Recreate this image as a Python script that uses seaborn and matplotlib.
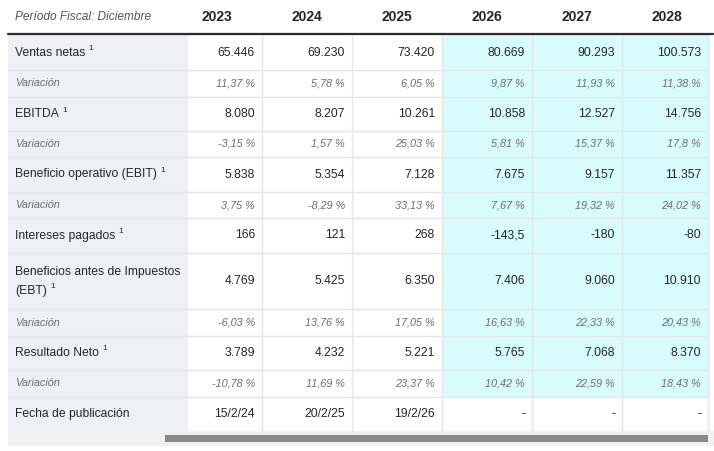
import numpy as np
import matplotlib
matplotlib.use("Agg")
import matplotlib.pyplot as plt
import seaborn as sns

sns.set_theme(style="white")
plt.rcParams['font.family'] = ['Liberation Sans', 'DejaVu Sans']

header_label = "Período Fiscal: Diciembre"
years = ["2023", "2024", "2025", "2026", "2027", "2028"]
n_forecast = 3  # last three years are estimates (cyan)

ventas = [65446, 69230, 73420, 80669, 90293, 100573]
ventas_var = [11.37, 5.78, 6.05, 9.87, 11.93, 11.38]
ebitda = [8080, 8207, 10261, 10858, 12527, 14756]
ebitda_var = [-3.15, 1.57, 25.03, 5.81, 15.37, 17.8]
ebit = [5838, 5354, 7128, 7675, 9157, 11357]
ebit_var = [3.75, -8.29, 33.13, 7.67, 19.32, 24.02]
intereses = [166, 121, 268, -143.5, -180, -80]
ebt = [4769, 5425, 6350, 7406, 9060, 10910]
ebt_var = [-6.03, 13.76, 17.05, 16.63, 22.33, 20.43]
neto = [3789, 4232, 5221, 5765, 7068, 8370]
neto_var = [-10.78, 11.69, 23.37, 10.42, 22.59, 18.43]
fechas = ["15/2/24", "20/2/25", "19/2/26", "-", "-", "-"]


def fmt_num(v):
    if isinstance(v, str):
        return v
    if float(v).is_integer():
        return f"{int(v):,}".replace(",", ".")
    return f"{v:g}".replace(".", ",")


def fmt_pct(v):
    return f"{v:g}".replace(".", ",") + " %"


# (label, values, is_variation, footnote)
rows = [
    ("Ventas netas", ventas, False, True),
    ("Variación", ventas_var, True, False),
    ("EBITDA", ebitda, False, True),
    ("Variación", ebitda_var, True, False),
    ("Beneficio operativo (EBIT)", ebit, False, True),
    ("Variación", ebit_var, True, False),
    ("Intereses pagados", intereses, False, True),
    ("Beneficios antes de Impuestos\n(EBT)", ebt, False, True),
    ("Variación", ebt_var, True, False),
    ("Resultado Neto", neto, False, True),
    ("Variación", neto_var, True, False),
    ("Fecha de publicación", fechas, False, False),
]

# --- layout (pixels) ---
W, H = 714, 451
row_edges = [35, 70, 97, 131, 157, 192, 218, 253, 309, 336, 370, 397, 431]
col_edges = [188, 262, 352, 442, 532, 622, 708]
left = 8
label_bg = "#eef0f3"
cyan_bg = "#d8fcfc"
grid_c = "#e3e5e8"
txt_c = "#262626"
var_c = "#6e6e6e"
fs_main = 8.7
fs_var = 7.8

fig = plt.figure(figsize=(W / 100, H / 100), dpi=100)
ax = fig.add_axes([0, 0, 1, 1])
ax.set_xlim(0, W)
ax.set_ylim(H, 0)
ax.axis("off")

# backgrounds
ax.add_patch(plt.Rectangle((left, row_edges[0]), col_edges[0] - left,
                           row_edges[-1] - row_edges[0], color=label_bg, lw=0))
fc_x0 = col_edges[len(years) - n_forecast]
ax.add_patch(plt.Rectangle((fc_x0, row_edges[0]), col_edges[-1] - fc_x0,
                           row_edges[-2] - row_edges[0], color=cyan_bg, lw=0))

# grid lines
for y in row_edges[1:-1]:
    ax.plot([left, col_edges[-1]], [y, y], color=grid_c, lw=1)
for x in col_edges[1:]:
    ax.plot([x, x], [row_edges[0], row_edges[-1]], color=grid_c, lw=1)
ax.plot([left, W - 1], [34, 34], color="#2b2b2b", lw=1.6)

# bottom scroll strip
ax.add_patch(plt.Rectangle((left, row_edges[-1]), W - left, 15, color="#f1f1f1", lw=0))
ax.add_patch(plt.Rectangle((165, 435), 543, 7, color="#8a8a8a", lw=0))

# header
ax.text(15, 17, header_label, fontsize=8.6, style="italic", color="#555555",
        va="center", ha="left")
for i, yr in enumerate(years):
    ax.text(217 + 90 * i, 17, yr, fontsize=10, fontweight="bold", color=txt_c,
            va="center", ha="center")

fig.canvas.draw()
renderer = fig.canvas.get_renderer()

for r, (label, vals, is_var, foot) in enumerate(rows):
    yc = (row_edges[r] + row_edges[r + 1]) / 2
    if is_var:
        ax.text(15, yc, label, fontsize=fs_var, style="italic", color=var_c,
                va="center", ha="left")
    else:
        lines = label.split("\n")
        if len(lines) == 1:
            t = ax.text(15, yc, label, fontsize=fs_main, color=txt_c, va="center", ha="left")
            last_y = yc
        else:
            ax.text(15, yc - 9.5, lines[0], fontsize=fs_main, color=txt_c, va="center", ha="left")
            t = ax.text(15, yc + 10, lines[1], fontsize=fs_main, color=txt_c, va="center", ha="left")
            last_y = yc + 10
        if foot:
            bb = t.get_window_extent(renderer)
            x_end = bb.x1
            ax.text(x_end + 3, last_y - 4, "1", fontsize=6, color=txt_c,
                    va="center", ha="left")
    for c, v in enumerate(vals):
        xr = col_edges[c + 1] - 7
        if is_var:
            ax.text(xr, yc, fmt_pct(v), fontsize=fs_var, style="italic", color=var_c,
                    va="center", ha="right")
        else:
            ax.text(xr, yc, fmt_num(v), fontsize=fs_main, color=txt_c,
                    va="center", ha="right")

fig.savefig("out.png", dpi=100)
